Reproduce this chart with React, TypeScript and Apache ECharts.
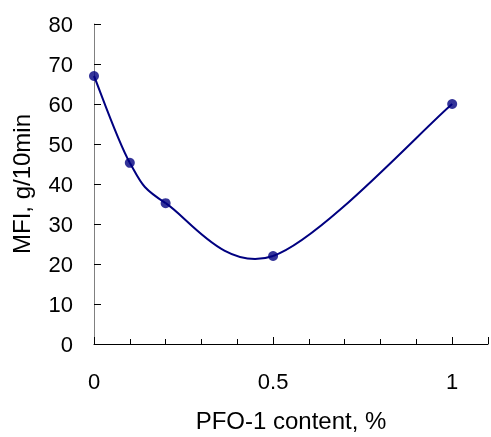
import React, { useEffect, useRef } from "react";
import * as echarts from "echarts";

const xValues = [0, 0.1, 0.2, 0.5, 1];
const mfiValues = [67, 45.3, 35.2, 22, 60];
const xTickLabels = ["0", "0.5", "1"];

export default function App() {
  const ref = useRef<HTMLDivElement>(null);
  useEffect(() => {
    if (!ref.current) return;
    const chart = echarts.init(ref.current, null, { renderer: "svg" });
    const font = "'Liberation Sans', Arial, sans-serif";
    const points = xValues.map((x, i) => [x, mfiValues[i]]);
    chart.setOption({
      animation: false,
      grid: { left: 94, top: 24, width: 400, height: 324 },
      xAxis: [
        {
          type: "value",
          min: 0,
          max: 1.1,
          interval: 0.1,
          name: "PFO-1 content, %",
          nameLocation: "middle",
          nameGap: 64,
          nameTextStyle: { fontFamily: font, fontSize: 24, color: "#000" },
          axisLine: { show: true, onZero: false, lineStyle: { color: "#000", width: 1 } },
          axisTick: { show: true, inside: true, length: 5, lineStyle: { color: "#000" } },
          axisLabel: {
            margin: 26,
            fontFamily: font,
            fontSize: 22,
            color: "#000",
            formatter: (v: number) => {
              const s = String(Math.round(v * 10) / 10);
              return xTickLabels.includes(s) ? s : "";
            },
          },
          splitLine: { show: false },
        },
        {
          type: "value",
          position: "bottom",
          min: 0,
          max: 1.1,
          interval: 0.5,
          axisLine: { show: false },
          axisTick: { show: true, inside: true, length: 7, lineStyle: { color: "#000" } },
          axisLabel: { show: false },
          splitLine: { show: false },
        },
      ],
      yAxis: {
        type: "value",
        min: 0,
        max: 80,
        interval: 10,
        name: "MFI, g/10min",
        nameLocation: "middle",
        nameGap: 61,
        nameRotate: 90,
        nameTextStyle: { fontFamily: font, fontSize: 24, color: "#000" },
        axisLine: { show: true, lineStyle: { color: "#808080", width: 1 } },
        axisTick: { show: true, inside: true, length: 7, lineStyle: { color: "#000" } },
        axisLabel: { margin: 21, fontFamily: font, fontSize: 22, color: "#000" },
        splitLine: { show: false },
      },
      series: [
        {
          type: "custom",
          data: points,
          clip: false,
          renderItem: (params: any, api: any) => {
            const i = params.dataIndex;
            if (i === 0) return { type: "group", children: [] };
            const P = points.map((p) => api.coord(p));
            const n = P.length;
            const prev = P[Math.max(i - 2, 0)];
            const a = P[i - 1];
            const b = P[i];
            const next = P[Math.min(i + 1, n - 1)];
            const t = 1 / 6;
            const c1x = a[0] + (b[0] - prev[0]) * t;
            const c1y = a[1] + (b[1] - prev[1]) * t;
            const c2x = b[0] - (next[0] - a[0]) * t;
            const c2y = b[1] - (next[1] - a[1]) * t;
            return {
              type: "bezierCurve",
              shape: { x1: a[0], y1: a[1], x2: b[0], y2: b[1], cpx1: c1x, cpy1: c1y, cpx2: c2x, cpy2: c2y },
              style: { stroke: "#000080", lineWidth: 2, fill: "none" },
            };
          },
          z: 2,
        },
        {
          type: "scatter",
          data: points,
          symbol: "circle",
          symbolSize: 10,
          itemStyle: { color: "#000080" },
          clip: false,
          z: 3,
        },
      ],
    });
    return () => chart.dispose();
  }, []);
  return (
    <div
      ref={ref}
      style={{ position: "fixed", left: 0, top: 0, width: 491, height: 437, overflow: "hidden" }}
    />
  );
}
